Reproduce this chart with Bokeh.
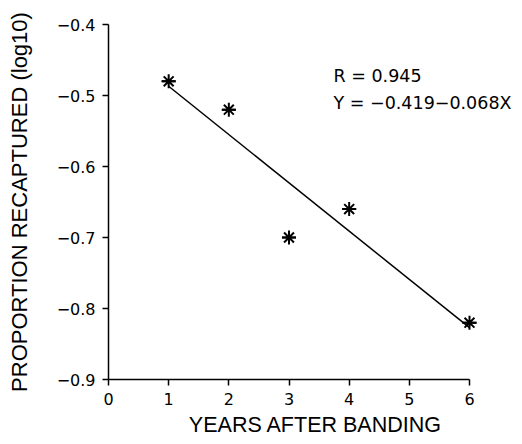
from bokeh.plotting import figure
from bokeh.models import Range1d, FixedTicker, CustomJSTickFormatter, Label
from bokeh.embed import file_html
from bokeh.resources import INLINE

years = [1, 2, 3, 4, 6]
log_prop = [-0.48, -0.52, -0.70, -0.66, -0.82]
intercept = -0.419
slope = -0.068
fit_x = [1, 6]
fit_y = [intercept + slope * x for x in fit_x]
x_ticks = [0, 1, 2, 3, 4, 5, 6]
y_ticks = [-0.9, -0.8, -0.7, -0.6, -0.5, -0.4]
r_text = "R = 0.945"
eq_text = "Y = \u22120.419\u22120.068X"

LABEL_FONT = "Liberation Sans"
TICK_FONT = "DejaVu Sans"

W, H = 522, 444
LEFT, TOP, BOTTOM = 108, 24, H - 379
PX_PER_YEAR = (469 - 108) / 6.0
x_end = (W - LEFT) / PX_PER_YEAR

p = figure(width=W, height=H, output_backend="svg", toolbar_location=None,
           x_range=Range1d(0, x_end), y_range=Range1d(-0.9, -0.4),
           min_border_left=LEFT, min_border_right=0, min_border_top=TOP,
           min_border_bottom=BOTTOM)
p.outline_line_color = None
p.grid.visible = False
p.background_fill_color = "white"
p.border_fill_color = "white"

p.line(fit_x, fit_y, line_color="black", line_width=1.5)
p.scatter(years, log_prop, marker="asterisk", size=14, line_color="black", line_width=2)
p.scatter(years, log_prop, marker="dash", size=14, line_color="black", line_width=2)

for ax in (p.xaxis[0], p.yaxis[0]):
    ax.axis_line_width = 1.5
    ax.axis_line_color = "black"
    ax.major_tick_line_width = 1.5
    ax.major_tick_out = 6
    ax.major_tick_in = 0
    ax.minor_tick_line_color = None
    ax.major_label_text_font = TICK_FONT
    ax.major_label_text_font_size = "16px"
    ax.major_label_text_color = "black"
    ax.axis_label_text_font = LABEL_FONT
    ax.axis_label_text_font_style = "normal"
    ax.axis_label_text_color = "black"

p.xaxis.axis_label_text_font_size = "21.5px"
p.yaxis.axis_label_text_font_size = "22px"
p.xaxis.bounds = (0, 6)
p.xaxis.ticker = FixedTicker(ticks=x_ticks)
p.yaxis.ticker = FixedTicker(ticks=y_ticks)
p.yaxis.formatter = CustomJSTickFormatter(
    code="return (tick < 0 ? '\u2212' : '') + Math.abs(tick).toFixed(1);")
p.xaxis.axis_label = "YEARS AFTER BANDING"
p.yaxis.axis_label = "PROPORTION RECAPTURED (log10)"
p.xaxis.major_label_standoff = 7
p.yaxis.major_label_standoff = 7
p.xaxis.axis_label_standoff = 5
p.yaxis.axis_label_standoff = 22

p.add_layout(Label(x=3.74, y=-0.473, text=r_text, text_font=TICK_FONT, text_font_size="17.5px",
                   text_baseline="middle", text_color="black"))
p.add_layout(Label(x=3.74, y=-0.511, text=eq_text, text_font=TICK_FONT, text_font_size="17.5px",
                   text_baseline="middle", text_color="black"))

open("out.html", "w").write(file_html(p, INLINE))
